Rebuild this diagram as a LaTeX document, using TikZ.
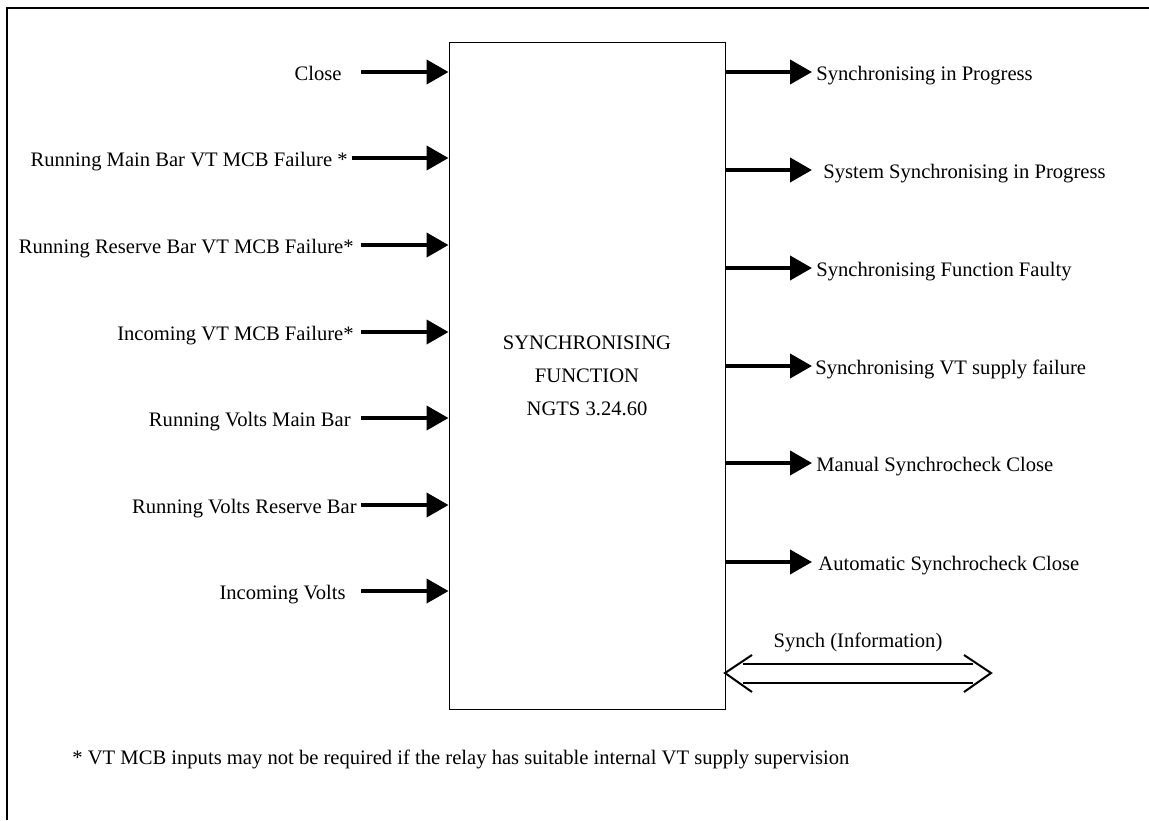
\documentclass[tikz,border=0pt]{standalone}
\usepackage{fontspec}
\setmainfont{Liberation Serif}
\usetikzlibrary{arrows.meta, positioning, calc}

\tikzset{
  sig/.style={line width=2pt, -{Triangle[length=11pt,width=12pt]}},
  lbl/.style={inner sep=0pt, text height=8pt, text depth=0pt, font=\fontsize{10.3}{12}\selectfont},
}

\begin{document}
\begin{tikzpicture}[x=0.5pt, y=-0.5pt]
    \useasboundingbox (0,0) rectangle (1149,820);
    \draw [line width=0.75pt] (1149,8) -- (7,8) -- (7,820);

    % function block
    \node[draw, line width=0.5pt, minimum width=138pt, minimum height=333.5pt, inner sep=0pt, align=center, font=\fontsize{10.3}{16.5}\selectfont] (box) at (587,375.5) {SYNCHRONISING\\FUNCTION\\NGTS 3.24.60};

    % inputs
    \coordinate (i1) at (361,72);
    \coordinate (i2) at (352,158);
    \coordinate (i3) at (361,245);
    \coordinate (i4) at (361,332);
    \coordinate (i5) at (361,418);
    \coordinate (i6) at (361,505);
    \coordinate (i7) at (361,591);
    \node[lbl, anchor=east] (in1) at (342,72) {Close};
    \node[lbl, anchor=east] (in2) at (348,158) {Running Main Bar VT MCB Failure *};
    \node[lbl, anchor=east] (in3) at (354,245) {Running Reserve Bar VT MCB Failure*};
    \node[lbl, anchor=east] (in4) at (354,332) {Incoming VT MCB Failure*};
    \node[lbl, anchor=east] (in5) at (351,418) {Running Volts Main Bar};
    \node[lbl, anchor=east] (in6) at (357,505) {Running Volts Reserve Bar};
    \node[lbl, anchor=east] (in7) at (346,591) {Incoming Volts};
    \draw [sig] (i1) -- (i1 -| box.west);
    \draw [sig] (i2) -- (i2 -| box.west);
    \draw [sig] (i3) -- (i3 -| box.west);
    \draw [sig] (i4) -- (i4 -| box.west);
    \draw [sig] (i5) -- (i5 -| box.west);
    \draw [sig] (i6) -- (i6 -| box.west);
    \draw [sig] (i7) -- (i7 -| box.west);

    % outputs
    \coordinate (o1) at (812,72);
    \coordinate (o2) at (812,170);
    \coordinate (o3) at (812,268);
    \coordinate (o4) at (812,366);
    \coordinate (o5) at (812,463);
    \coordinate (o6) at (812,562);
    \node[lbl, anchor=west] (out1) at (816,72) {Synchronising in Progress};
    \node[lbl, anchor=west] (out2) at (823,170) {System Synchronising in Progress};
    \node[lbl, anchor=west] (out3) at (816,268) {Synchronising Function Faulty};
    \node[lbl, anchor=west] (out4) at (815,366) {Synchronising VT supply failure};
    \node[lbl, anchor=west] (out5) at (816,463) {Manual Synchrocheck Close};
    \node[lbl, anchor=west] (out6) at (818,562) {Automatic Synchrocheck Close};
    \draw [sig] (o1 -| box.east) -- (o1);
    \draw [sig] (o2 -| box.east) -- (o2);
    \draw [sig] (o3 -| box.east) -- (o3);
    \draw [sig] (o4 -| box.east) -- (o4);
    \draw [sig] (o5 -| box.east) -- (o5);
    \draw [sig] (o6 -| box.east) -- (o6);

    % synch information (both ways)
    \coordinate (sl) at (725,673);
    \coordinate (sr) at (991,673);
    \node[lbl] (synch) at (858,639) {Synch (Information)};
    \draw [line width=1pt] ($(sl)+(18,-9.5)$) -- ($(sr)+(-18,-9.5)$);
    \draw [line width=1pt] ($(sl)+(18,9.5)$) -- ($(sr)+(-18,9.5)$);
    \draw [line width=1pt] ($(sl)+(27,-18)$) -- (sl) -- ($(sl)+(27,19)$);
    \draw [line width=1pt] ($(sr)+(-27,-18)$) -- (sr) -- ($(sr)+(-27,19)$);

    \node[lbl, anchor=west] (note) at (72,756) {* VT MCB inputs may not be required if the relay has suitable internal VT supply supervision};
\end{tikzpicture}
\end{document}
